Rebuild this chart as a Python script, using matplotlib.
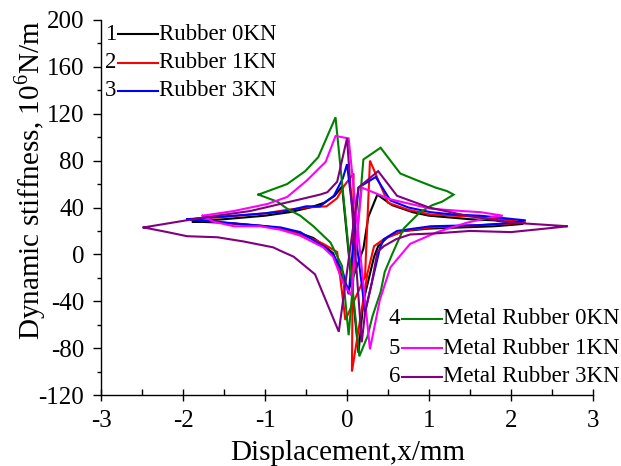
import matplotlib
matplotlib.use("Agg")
import matplotlib.pyplot as plt
from matplotlib.ticker import MultipleLocator
from matplotlib.lines import Line2D

plt.rcParams['font.family'] = ['Liberation Serif', 'DejaVu Serif']
plt.rcParams['mathtext.fontset'] = 'custom'
plt.rcParams['mathtext.rm'] = 'Liberation Serif'

# Rubber 0KN
black_x = [-1.88, -1.5, -1.0, -0.7, -0.45, -0.28, -0.15, -0.06, 0.14, 0.2, 0.33, 0.38, 0.5,
           0.7, 1.0, 1.4, 1.8, 2.15, 1.8, 1.5, 1.0, 0.8, 0.55, 0.45, 0.37, 0.26, 0.2,
           0.02, -0.05, -0.17, -0.29, -0.41, -0.57, -0.8, -1.0, -1.5, -1.88]
black_y = [28, 30, 33, 36, 40, 44, 50, 58, -84, -40, -2, 7, 15,
           20, 22, 23, 24, 26, 29, 30, 33, 36, 42, 47, 51, 32, 5,
           -30, -21, 1, 8, 14, 18, 22, 24, 27, 28]

# Rubber 1KN
red_x = [-1.9, -1.5, -1.0, -0.73, -0.5, -0.25, -0.12, -0.04, 0.08, 0.06, 0.25, 0.33, 0.45,
         0.69, 1.02, 1.63, 1.9, 2.18, 1.9, 1.63, 1.3, 1.02, 0.75, 0.5, 0.28, 0.22,
         -0.02, -0.12, -0.29, -0.41, -0.57, -0.81, -1.0, -1.5, -1.9]
red_y = [30, 32, 35, 38, 40, 41, 48, 58, 69, -100, -16, 7, 13,
         20, 23, 25, 26, 27, 30, 32, 33, 34, 38, 44, 80, -19,
         -56, 2, 9, 13, 17, 22, 24, 27, 30]

# Rubber 3KN
blue_x = [-1.95, -1.38, -1.0, -0.73, -0.5, -0.33, -0.16, -0.05, 0.0, 0.22, 0.33, 0.4, 0.45,
          0.61, 1.02, 1.63, 2.03, 2.18, 1.9, 1.63, 1.3, 1.02, 0.75, 0.53, 0.35, 0.14,
          0.02, -0.05, -0.17, -0.29, -0.57, -0.81, -1.3, -1.95]
blue_y = [30, 33, 35, 37, 41, 41, 50, 65, 77, -49, -16, 5, 13,
          20, 24, 25, 27, 29, 31, 33, 34, 36, 40, 46, 66, 57,
          -34, -15, 0, 7, 19, 23, 26, 30]

# Metal Rubber 0KN
green_x = [-1.08, -0.73, -0.51, -0.35, -0.14, 0.15, 0.25, 0.31, 0.41, 0.46, 0.55, 0.69, 0.89,
           1.04, 1.16, 1.3, 1.22, 1.08, 0.86, 0.65, 0.41, 0.2, 0.02, -0.06, -0.2,
           -0.41, -0.57, -0.73, -0.85, -1.08]
green_y = [51, 60, 71, 83, 117, -87, -70, -53, -32, -15, 0, 22, 36,
           42, 45, 51, 54, 57, 63, 69, 91, 81, -69, -10, 10,
           24, 33, 39, 45, 51]

# Metal Rubber 1KN
magenta_x = [-1.76, -1.38, -0.97, -0.73, -0.49, -0.26, -0.14, 0.02, 0.28, 0.4, 0.53, 0.77, 1.1,
             1.46, 1.78, 1.9, 1.63, 1.4, 1.02, 0.53, 0.18, 0.05, -0.05, -0.17, -0.29,
             -0.57, -0.81, -1.06, -1.38, -1.63, -1.76]
magenta_y = [33, 37, 43, 49, 63, 79, 101, 99, -81, -39, -11, 9, 19,
             27, 32, 33, 36, 37, 39, 47, 57, -35, -24, -2, 6,
             16, 21, 24, 24, 28, 33]

# Metal Rubber 3KN
purple_x = [-2.48, -1.79, -1.18, -0.57, -0.33, -0.24, -0.12, 0.0, 0.18, 0.22, 0.3, 0.37, 0.45,
            0.6, 0.77, 1.1, 1.5, 2.0, 2.56, 2.69, 2.03, 1.46, 1.0, 0.61, 0.38, 0.14,
            -0.1, -0.39, -0.65, -0.81, -0.9, -1.26, -1.58, -1.95, -2.19, -2.48]
purple_y = [23, 31, 37, 47, 51, 53, 62, 99, -75, -50, -25, 2, 7,
            13, 17, 18, 20, 19, 23, 24, 27, 33, 40, 50, 71, 57,
            -66, -17, -2, 3, 6, 11, 14.6, 15.5, 19, 23]

series = [
    ("1", "Rubber 0KN", "black", black_x, black_y),
    ("2", "Rubber 1KN", "#ff0000", red_x, red_y),
    ("3", "Rubber 3KN", "#0000ff", blue_x, blue_y),
    ("4", "Metal Rubber 0KN", "#008000", green_x, green_y),
    ("5", "Metal Rubber 1KN", "#ff00ff", magenta_x, magenta_y),
    ("6", "Metal Rubber 3KN", "#800080", purple_x, purple_y),
]

fig = plt.figure(figsize=(6.21, 4.66), dpi=100)
ax = fig.add_axes([101 / 621, 1 - 395 / 466, 492 / 621, 375 / 466])

for num, name, col, xs, ys in series:
    ax.plot(xs, ys, color=col, lw=1.5, solid_joinstyle='miter')

ax.set_xlim(-3, 3)
ax.set_ylim(-120, 200)
ax.xaxis.set_major_locator(MultipleLocator(1))
ax.xaxis.set_minor_locator(MultipleLocator(0.5))
ax.yaxis.set_major_locator(MultipleLocator(40))
ax.yaxis.set_minor_locator(MultipleLocator(20))
for s in ['top', 'right']:
    ax.spines[s].set_visible(False)
for s in ['left', 'bottom']:
    ax.spines[s].set_linewidth(1.0)
ax.tick_params(axis='x', which='major', direction='inout', length=8, width=1, labelsize=18, pad=7)
ax.tick_params(axis='x', which='minor', direction='in', length=4, width=1)
ax.tick_params(axis='y', which='major', direction='out', length=6, width=1, labelsize=18, pad=6)
ax.tick_params(axis='y', which='minor', direction='out', length=3, width=1)
ax.set_xticklabels([f"{v:g}" for v in ax.get_xticks()])
ax.set_yticklabels([f"{v:g}" for v in ax.get_yticks()])

ax.set_xlabel("Displacement,x/mm", fontsize=21, va='top')
ax.xaxis.set_label_coords(0.501, -0.12)
ax.set_ylabel(r"Dynamic stiffness, 10$^{6}$N/m", fontsize=21)
ax.yaxis.set_label_coords(-0.108, 0.573)


def draw_key(num, name, col, px, py):
    # px: right edge of number, py: centre line (pixels from top-left)
    fy = 1 - py / 466
    fig.text(px / 621, fy, num, ha='right', va='center', fontsize=16.5)
    fig.add_artist(Line2D([(px + 2) / 621, (px + 42) / 621], [fy, fy], color=col, lw=1.5))
    fig.text((px + 43) / 621, fy, name, ha='left', va='center', fontsize=16.5)


for i, (num, name, col, xs, ys) in enumerate(series[:3]):
    draw_key(num, name, col, 116, 34 + i * 28.5)
for i, (num, name, col, xs, ys) in enumerate(series[3:]):
    draw_key(num, name, col, 400, 319 + i * 29)

fig.savefig("out.png", dpi=100)
